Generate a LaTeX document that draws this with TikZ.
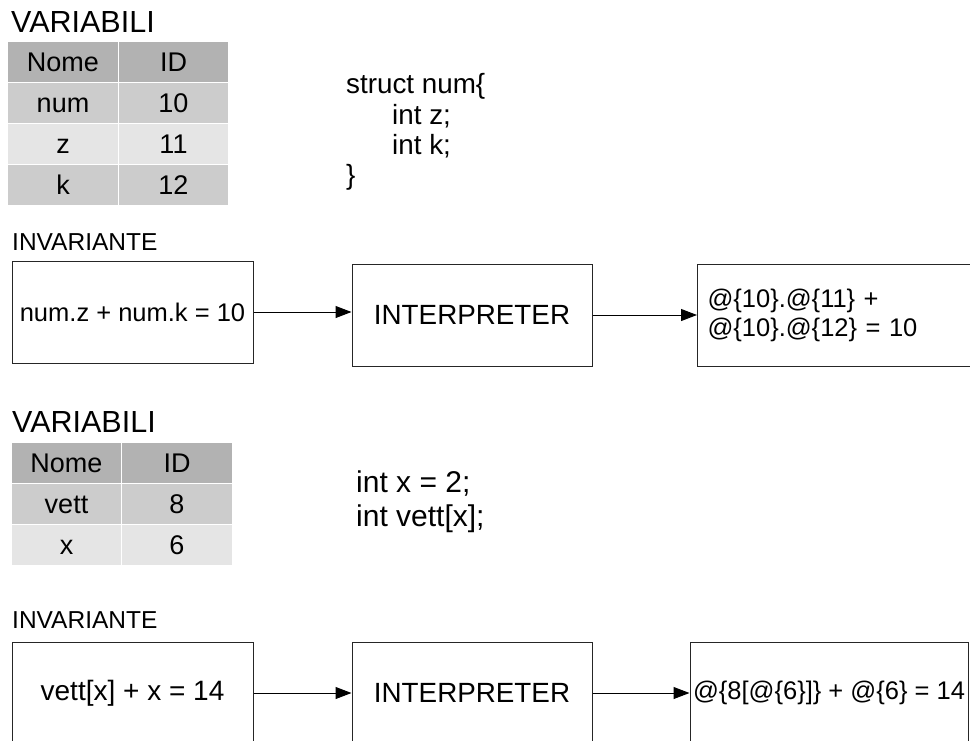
\documentclass[tikz,border=0pt]{standalone}
\usepackage{fontspec}
\setmainfont{Liberation Sans}
\usetikzlibrary{arrows.meta,positioning}

\begin{document}
\begin{tikzpicture}[x=1pt,y=-1pt,
  title/.style={anchor=base west,inner sep=0pt,font=\fontsize{30.5}{34}\selectfont},
  label/.style={anchor=base west,inner sep=0pt,font=\fontsize{24.5}{28}\selectfont},
  code/.style={anchor=base west,inner sep=0pt,font=\fontsize{27.8}{30}\selectfont},
  cell/.style={draw=white,line width=1pt,minimum width=110.5pt,minimum height=41pt,inner sep=0pt,
    text height=19.3pt,text depth=0pt,font=\fontsize{27}{30}\selectfont},
  head/.style={cell,fill=gray!60},
  dark/.style={cell,fill=gray!40},
  light/.style={cell,fill=gray!20},
  box/.style={draw=black!85,line width=1pt,minimum width=241pt,minimum height=102pt,inner sep=0pt,
    font=\fontsize{25.5}{29}\selectfont},
  flow/.style={-{Triangle[length=16pt,width=12pt]},line width=1pt}]
\useasboundingbox (0,0) rectangle (970,740);
\clip (0,0) rectangle (970,740);

% first example: struct
\node[title] at (11,32) (var1) {VARIABILI};
\node[head] at (63,62) (c11) {Nome};
\node[head] at (173.5,62) (c12) {ID};
\node[dark] at (63,103) (c21) {num};
\node[dark] at (173.5,103) (c22) {10};
\node[light] at (63,144) (c31) {z};
\node[light] at (173.5,144) (c32) {11};
\node[dark] at (63,185) (c41) {k};
\node[dark] at (173.5,185) (c42) {12};

\node[code] at (346,93) (s1) {struct num\{};
\node[code] at (392,124) (s2) {int z;};
\node[code] at (392,154) (s3) {int k;};
\node[code] at (346,184) (s4) {\}};

\node[label] at (12,250) (inv) {INVARIANTE};
\node[box] at (132.5,312) (inv1) {num.z + num.k = 10};
\node[box,font=\fontsize{27.8}{30}\selectfont,minimum width=240pt] at (472,315) (int1) {INTERPRETER};
\node[box,anchor=west,minimum width=300pt,text width=280pt,align=left] at (697,315) (res1)
  {@\{10\}.@\{11\} +\\@\{10\}.@\{12\} = 10};

\draw[flow] (inv1) -- (inv1 -| int1.west);
\draw[flow] (int1) -- (int1 -| res1.west);

% second example: array
\node[title] at (12,432) (var2) {VARIABILI};
\node[head] at (66.5,462.5) (d11) {Nome};
\node[head] at (177,462.5) (d12) {ID};
\node[dark] at (66.5,503.5) (d21) {vett};
\node[dark] at (177,503.5) (d22) {8};
\node[light] at (66.5,544.5) (d31) {x};
\node[light] at (177,544.5) (d32) {6};

\node[code,font=\fontsize{30}{34}\selectfont] at (356,492) (v1) {int x = 2;};
\node[code,font=\fontsize{30}{34}\selectfont] at (356,526) (v2) {int vett[x];};

\node[label] at (12,628) (inv') {INVARIANTE};
\node[box,font=\fontsize{28}{32}\selectfont] at (132.5,693) (inv2) {vett[x] + x = 14};
\node[box,font=\fontsize{27.8}{30}\selectfont,minimum width=240pt] at (472,693) (int2) {INTERPRETER};
\node[box,minimum width=278pt] at (829,693) (res2) {@\{8[@\{6\}]\} + @\{6\} = 14};

\draw[flow] (inv2) -- (int2);
\draw[flow] (int2) -- (res2);
\end{tikzpicture}
\end{document}
